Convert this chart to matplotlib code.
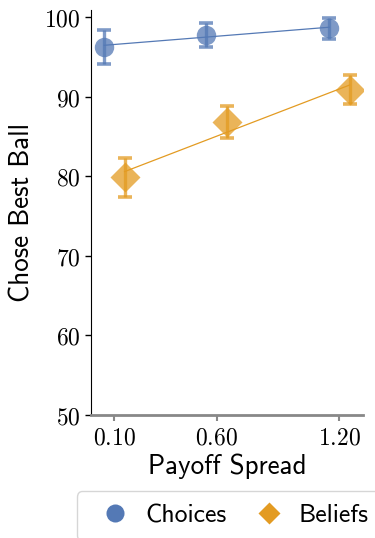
import numpy as np
import matplotlib
matplotlib.use("Agg")
from matplotlib import pyplot as plt
from matplotlib.lines import Line2D

# payoff spread conditions and mean % choosing the best ball
spread = [0.10, 0.60, 1.20]
spread_labels = ["0.10", "0.60", "1.20"]
choices = [96.3, 97.8, 98.6]
choices_err = [2.15, 1.5, 1.35]
beliefs = [79.9, 86.8, 90.9]
beliefs_err = [2.45, 2.0, 1.8]

blue = "#5479B5"
orange = "#E39B22"
dodge = 0.05

plt.rcParams["mathtext.fontset"] = "cm"
fig = plt.figure(figsize=(3.75, 5.38), dpi=100)
ax = fig.add_axes([0.2435, 0.2286, 0.7245, 0.7528])

series = [
    (choices, choices_err, -dodge, blue, "o", 14, "Choices"),
    (beliefs, beliefs_err, dodge, orange, "D", 15, "Beliefs"),
]
for vals, err, off, col, mk, ms, name in series:
    x = np.array(spread) + off
    ax.errorbar(x, vals, yerr=err, fmt=mk, ms=ms, color=col, alpha=0.75,
                elinewidth=2.4, capsize=5, capthick=2.6, mec="none", zorder=3)
    # linear fit across the dodged positions
    slope, icpt = np.polyfit(x, vals, 1)
    xs = np.array([x[0], x[-1]])
    ax.plot(xs, slope * xs + icpt, color=col, lw=0.9, zorder=2)

ax.set_xlim(-0.0125, 1.315)
ax.set_ylim(50, 100.9)
ax.set_yticks([50, 60, 70, 80, 90, 100])
ax.set_yticklabels(["$%d$" % v for v in [50, 60, 70, 80, 90, 100]])
ax.set_xticks(spread)
ax.set_xticklabels(["$%s$" % s for s in spread_labels])
ax.tick_params(labelsize=17)
ax.tick_params(axis="x", colors="#888888", labelcolor="black", width=1.5, length=4)
ax.tick_params(axis="y", width=1, length=4)

ax.spines["top"].set_visible(False)
ax.spines["right"].set_visible(False)
ax.spines["bottom"].set_color("#888888")
ax.spines["bottom"].set_linewidth(2)

ax.set_ylabel("Chose Best Ball", family="cmss10", fontsize=19.5, labelpad=7)
ax.set_xlabel("Payoff Spread", family="cmss10", fontsize=19.5, labelpad=3)

handles = [
    Line2D([], [], ls="none", marker="o", ms=13, color=blue, mec="none"),
    Line2D([], [], ls="none", marker="D", ms=11, color=orange, mec="none"),
]
leg = fig.legend(handles, ["Choices", "Beliefs"], ncol=2, loc="lower left",
                 bbox_to_anchor=(0.205, -0.004), borderaxespad=0,
                 prop={"family": "cmss10", "size": 18.5},
                 frameon=True, fancybox=True, edgecolor="#cccccc",
                 handletextpad=0.17, columnspacing=0.63, borderpad=0.5,
                 handlelength=2.0)

fig.savefig("out.png", dpi=100)
